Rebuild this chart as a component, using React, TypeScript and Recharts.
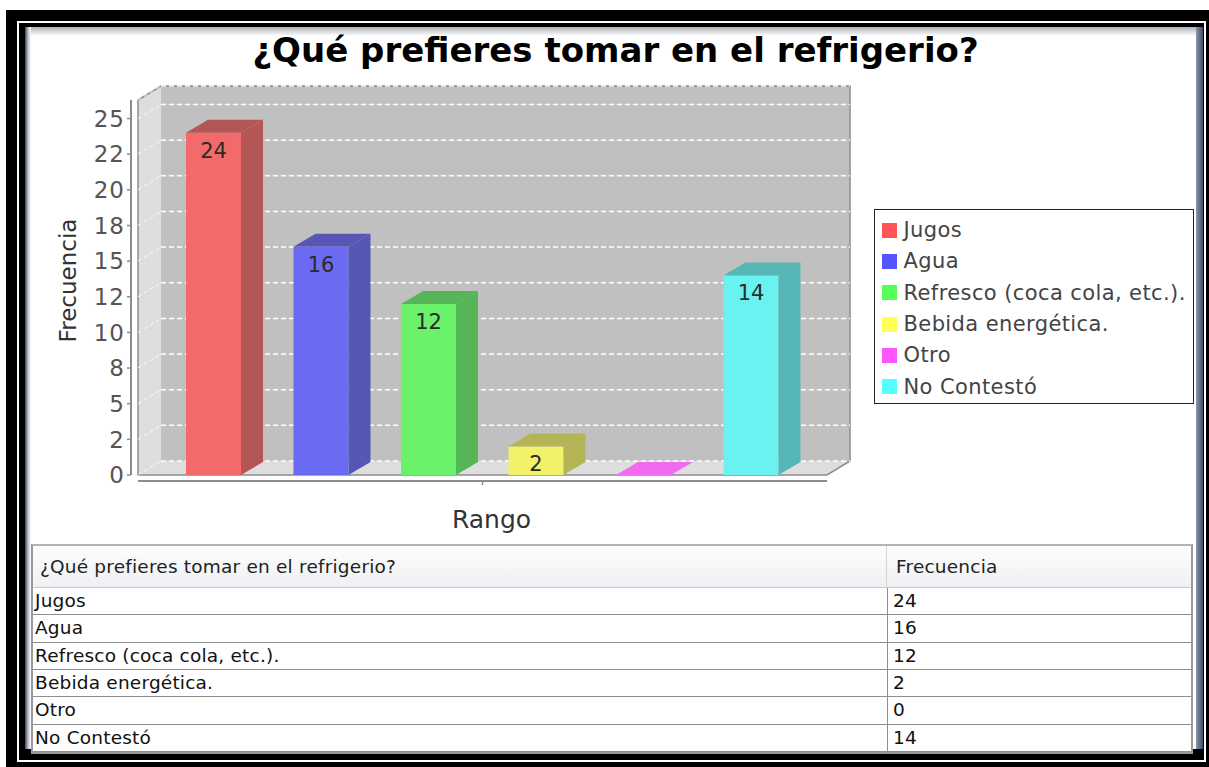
import React from 'react';
import { BarChart, Bar, XAxis, YAxis, CartesianGrid, ReferenceArea, Legend, LabelList } from 'recharts';

const chartTitle = '¿Qué prefieres tomar en el refrigerio?';
const categories = [''];
const seriesNames = ['Jugos', 'Agua', 'Refresco (coca cola, etc.).', 'Bebida energética.', 'Otro', 'No Contestó'];
const seriesValues = [24, 16, 12, 2, 0, 14];
const seriesColors = ['#ff5555', '#5555ff', '#55ff55', '#ffff55', '#ff55ff', '#55ffff'];
const yTicks = [0, 2.5, 5, 7.5, 10, 12.5, 15, 17.5, 20, 22.5, 25];
const yTickLabels = ['0', '2', '5', '8', '10', '12', '15', '18', '20', '22', '25'];
const yMax = 26.3;
const xAxisTitle = 'Rango';
const yAxisTitle = 'Frecuencia';
const tableHeaders = ['¿Qué prefieres tomar en el refrigerio?', 'Frecuencia'];

const data = categories.map((c) => {
  const row: any = { cat: c };
  seriesNames.forEach((_, i) => {
    row['s' + i] = seriesValues[i];
  });
  return row;
});

const FONT = '"DejaVu Sans", Verdana, sans-serif';
const WDX = 23;
const WDY = 14;
const BDX = 22;
const BDY = 13;

const mix = (hex: string, factor: number) => {
  const n = parseInt(hex.slice(1), 16);
  const f = (c: number) => Math.round(Math.floor(c * factor) * 0.8 + 192 * 0.2);
  return `rgb(${f((n >> 16) & 255)},${f((n >> 8) & 255)},${f(n & 255)})`;
};

const Walls = (p: any) => {
  const { x, y, width: w, height: h } = p;
  if (x == null) return null;
  const d = WDX;
  const e = WDY;
  return (
    <g>
      <path d={`M${x},${y} L${x + d},${y - e} L${x + d},${y + h - e} L${x},${y + h} Z`} fill="#dedede" />
      <rect x={x + d} y={y - e} width={w} height={h} fill="#c0c0c0" />
      <path d={`M${x},${y + h} L${x + d},${y + h - e} L${x + w + d},${y + h - e} L${x + w},${y + h} Z`} fill="#dedede" />
      <path
        d={`M${x},${y + h} L${x},${y} L${x + d},${y - e} L${x + w + d},${y - e} L${x + w + d},${y + h - e} L${x + w},${y + h} Z`}
        fill="none"
        stroke="#8c8c8c"
        strokeWidth={1.5}
      />
      <line x1={x - 7} y1={y} x2={x - 7} y2={y + h} stroke="#8c8c8c" strokeWidth={2} />
      <line x1={x} y1={y + h + 6} x2={x + w} y2={y + h + 6} stroke="#8c8c8c" strokeWidth={2} />
    </g>
  );
};

const gridLine = (p: any) => {
  const { x1, y1, x2 } = p;
  return (
    <g key={p.key ?? `g-${y1}`}>
      <line x1={x1 + WDX} y1={y1 - WDY} x2={x2 + WDX} y2={y1 - WDY} stroke="#ffffff" strokeWidth={1.5} strokeDasharray="5 3" />
      <line x1={x1} y1={y1} x2={x1 + WDX} y2={y1 - WDY} stroke="#ffffff" strokeOpacity={0.8} strokeWidth={1} strokeDasharray="4 3" />
    </g>
  );
};

const Bar3D = (p: any) => {
  const { x, y, width, height, fill } = p;
  if (x == null || width == null || y == null) return null;
  const front = mix(fill, 1);
  const side = mix(fill, 0.7);
  const h = Math.max(0, height || 0);
  const top = `M${x},${y} L${x + BDX},${y - BDY} L${x + width + BDX},${y - BDY} L${x + width},${y} Z`;
  if (h < 0.5) {
    return <path d={top} fill={front} />;
  }
  return (
    <g>
      <rect x={x} y={y} width={width} height={h} fill={front} />
      <path d={top} fill={side} />
      <path d={`M${x + width},${y} L${x + width + BDX},${y - BDY} L${x + width + BDX},${y + h - BDY} L${x + width},${y + h} Z`} fill={side} />
    </g>
  );
};

const renderBarLabel = (p: any) => {
  const vb = p.viewBox && p.viewBox.x != null ? p.viewBox : p;
  const { x, y, width } = vb;
  const v = p.value;
  if (!v || x == null) return null;
  return (
    <text x={x + width / 2} y={y + 25} textAnchor="middle" fontSize={21} fontFamily={FONT} fill="#2b2b2b">
      {v}
    </text>
  );
};

const YTick = (p: any) => {
  const { x, y, payload } = p;
  const idx = yTicks.indexOf(payload.value);
  return (
    <g>
      <line x1={x - 11} y1={y} x2={x - 7} y2={y} stroke="#8c8c8c" strokeWidth={1.5} />
      <text x={x - 13} y={y} dy="0.36em" textAnchor="end" fontSize={23} fontFamily={FONT} fill="#555" letterSpacing={1}>
        {idx >= 0 ? yTickLabels[idx] : payload.value}
      </text>
    </g>
  );
};

const XTick = (p: any) => {
  const { x, y } = p;
  return <line x1={x} y1={y + 6} x2={x} y2={y + 10} stroke="#8c8c8c" strokeWidth={1.5} />;
};

const renderXLabel = (p: any) => {
  const vb = p.viewBox;
  if (!vb) return null;
  return (
    <text x={vb.x + vb.width / 2 + 9} y={vb.y + 53} textAnchor="middle" fontSize={25} fontFamily={FONT} fill="#333">
      {xAxisTitle}
    </text>
  );
};

const renderYLabel = (p: any) => {
  const vb = p.viewBox;
  if (!vb) return null;
  const cx = vb.x + 10;
  const cy = vb.y + vb.height / 2 - 7;
  return (
    <text x={cx} y={cy} textAnchor="middle" dominantBaseline="central" fontSize={23} fontFamily={FONT} fill="#333" transform={`rotate(-90 ${cx} ${cy})`}>
      {yAxisTitle}
    </text>
  );
};

const renderLegend = (props: any) => {
  const items = [...(props.payload ?? [])].sort(
    (a: any, b: any) => seriesNames.indexOf(a.value) - seriesNames.indexOf(b.value)
  );
  return (
    <div
      style={{
        border: '1.5px solid #222',
        background: '#fff',
        width: 320,
        height: 195,
        boxSizing: 'border-box',
        paddingTop: 4.5,
        fontFamily: FONT,
        fontSize: 21,
        letterSpacing: 0.4,
        color: '#444',
      }}
    >
      {items.map((it: any, i: number) => (
        <div key={i} style={{ height: 31.3, display: 'flex', alignItems: 'center', whiteSpace: 'nowrap' }}>
          <span style={{ display: 'inline-block', width: 15, height: 15, background: it.color, marginLeft: 6.5, marginRight: 7 }} />
          <span>{it.value}</span>
        </div>
      ))}
    </div>
  );
};

const rowH = 27.33;

export default function App() {
  return (
    <div style={{ position: 'absolute', left: 0, top: 0, width: 1209, height: 767, overflow: 'hidden', background: '#fff' }}>
      {/* window frame */}
      <div style={{ position: 'absolute', left: 6, top: 10, width: 1203, height: 757, background: '#000' }} />
      <div style={{ position: 'absolute', left: 17, top: 21, width: 1189, height: 741, background: '#fff' }} />
      <div style={{ position: 'absolute', left: 19, top: 23, width: 1185, height: 737, background: '#000' }} />
      <div style={{ position: 'absolute', left: 1196, top: 27, width: 7, height: 722, background: 'linear-gradient(to right, #8a96ac, #3e4c68)' }} />
      <div style={{ position: 'absolute', left: 25, top: 27, width: 1171, height: 722, background: '#fff' }} />
      <div style={{ position: 'absolute', left: 25, top: 27, width: 1171, height: 9, background: 'linear-gradient(#aeb2ba, #ffffff)' }} />
      <div style={{ position: 'absolute', left: 25, top: 27, width: 6, height: 722, background: 'linear-gradient(to right, #3a4456, #b8bec8, #ffffff)' }} />

      {/* title */}
      <div
        style={{
          position: 'absolute',
          left: 30,
          top: 30,
          width: 1171,
          textAlign: 'center',
          fontFamily: FONT,
          fontWeight: 'bold',
          fontSize: 34,
          lineHeight: '40px',
          color: '#000',
          whiteSpace: 'nowrap',
        }}
      >
        {chartTitle}
      </div>

      {/* chart */}
      <div style={{ position: 'absolute', left: 0, top: 0 }}>
        <BarChart
          width={1209}
          height={540}
          data={data}
          margin={{ top: 100, right: 382, bottom: 5, left: 58 }}
          barGap={52.5}
          barCategoryGap={0}
        >
          <ReferenceArea y1={0} y2={yMax} shape={Walls} zIndex={-200} ifOverflow="visible" />
          <CartesianGrid vertical={false} horizontal={gridLine} />
          <XAxis
            dataKey="cat"
            type="category"
            height={60}
            tickSize={0}
            tickMargin={0}
            tickLine={false}
            axisLine={false}
            interval={0}
            tick={(p: any) => <XTick {...p} />}
            label={renderXLabel}
          />
          <YAxis
            type="number"
            domain={[0, yMax]}
            ticks={yTicks}
            interval={0}
            width={80}
            tickSize={0}
            tickMargin={0}
            tickLine={false}
            axisLine={false}
            tick={(p: any) => <YTick {...p} />}
            label={renderYLabel}
          />
          <Legend
            layout="horizontal"
            verticalAlign="middle"
            align="center"
            content={renderLegend}
            wrapperStyle={{ position: 'absolute', left: 874, top: 209, width: 320, height: 195 }}
          />
          {seriesNames.map((n, i) => (
            <Bar
              key={n}
              dataKey={'s' + i}
              name={n}
              fill={seriesColors[i]}
              barSize={55}
              isAnimationActive={false}
              shape={(p: any) => <Bar3D {...p} />}
            >
              <LabelList dataKey={'s' + i} content={renderBarLabel} />
            </Bar>
          ))}
        </BarChart>
      </div>

      {/* table */}
      <div
        style={{
          position: 'absolute',
          left: 31,
          top: 544,
          width: 1162,
          height: 210,
          border: '2px solid #9a9a9a',
          borderTopColor: '#b4b4b4',
          boxSizing: 'border-box',
          background: '#fff',
          fontFamily: FONT,
          fontSize: 18.5,
          letterSpacing: 0.2,
          color: '#111',
          overflow: 'hidden',
        }}
      >
        <div style={{ height: 42, display: 'flex', background: 'linear-gradient(#fdfdfd, #eef0f3)', borderBottom: '1px solid #c8c8c8', boxSizing: 'border-box', color: '#222' }}>
          <div style={{ width: 854, paddingLeft: 7, lineHeight: '42px', borderRight: '1px solid #d4d4d4', boxSizing: 'border-box', whiteSpace: 'nowrap' }}>{tableHeaders[0]}</div>
          <div style={{ paddingLeft: 9, lineHeight: '42px', whiteSpace: 'nowrap' }}>{tableHeaders[1]}</div>
        </div>
        {seriesNames.map((n, i) => (
          <div key={n} style={{ height: rowH, display: 'flex', borderBottom: '1.5px solid #8e8e8e', boxSizing: 'border-box' }}>
            <div style={{ width: 854, paddingLeft: 2, lineHeight: `${rowH - 1.5}px`, boxSizing: 'border-box', whiteSpace: 'nowrap' }}>{n}</div>
            <div style={{ paddingLeft: 5, lineHeight: `${rowH - 1.5}px`, borderLeft: '1.5px solid #8e8e8e', whiteSpace: 'nowrap', flex: 1 }}>{seriesValues[i]}</div>
          </div>
        ))}
      </div>
    </div>
  );
}
